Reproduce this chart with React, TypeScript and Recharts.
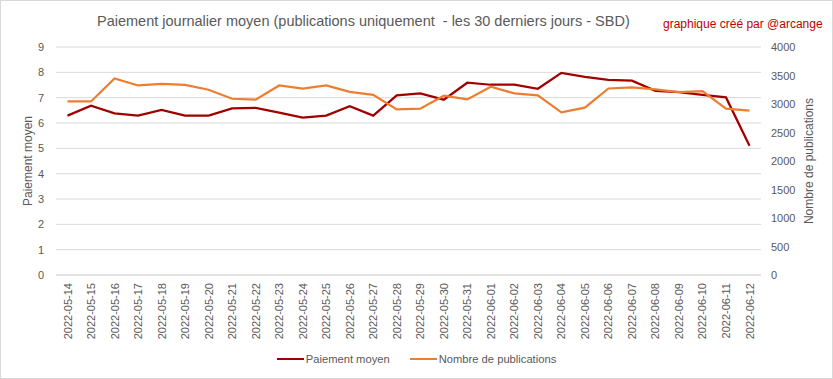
import React from 'react';
import { LineChart, Line, XAxis, YAxis, CartesianGrid, Legend } from 'recharts';

const dates = [
  '2022-05-14', '2022-05-15', '2022-05-16', '2022-05-17', '2022-05-18', '2022-05-19',
  '2022-05-20', '2022-05-21', '2022-05-22', '2022-05-23', '2022-05-24', '2022-05-25',
  '2022-05-26', '2022-05-27', '2022-05-28', '2022-05-29', '2022-05-30', '2022-05-31',
  '2022-06-01', '2022-06-02', '2022-06-03', '2022-06-04', '2022-06-05', '2022-06-06',
  '2022-06-07', '2022-06-08', '2022-06-09', '2022-06-10', '2022-06-11', '2022-06-12',
];

const paiementMoyen = [
  6.29, 6.68, 6.38, 6.29, 6.52, 6.29, 6.29, 6.58, 6.6, 6.41, 6.21, 6.29,
  6.66, 6.29, 7.09, 7.17, 6.92, 7.59, 7.51, 7.51, 7.35, 7.98, 7.82, 7.7,
  7.67, 7.27, 7.22, 7.11, 7.01, 5.1,
];

const nombrePublications = [
  3045, 3045, 3447, 3325, 3354, 3337, 3250, 3092, 3075, 3325, 3272, 3325,
  3214, 3162, 2905, 2917, 3145, 3080, 3302, 3185, 3150, 2853, 2935, 3272,
  3290, 3255, 3209, 3225, 2917, 2883,
];

const leftTicks = [0, 1, 2, 3, 4, 5, 6, 7, 8, 9];
const rightTicks = [0, 500, 1000, 1500, 2000, 2500, 3000, 3500, 4000];

const data = dates.map((d, i) => ({
  date: d,
  paiement: paiementMoyen[i],
  publications: nombrePublications[i],
}));

const FONT = '"Liberation Sans", Arial, sans-serif';
const GREY = '#595959';
const RED = '#a00000';
const ORANGE = '#ed7d31';

// rotated date labels, centred on the category
const DateTick = (props: any) => {
  const { x, y, payload } = props;
  return (
    <text
      x={x}
      y={y}
      transform={`rotate(-90, ${x}, ${y})`}
      textAnchor="end"
      dominantBaseline="central"
      fontSize={11}
      fill={GREY}
      fontFamily={FONT}
    >
      {payload.value}
    </text>
  );
};

const ValueTick = (props: any) => {
  const { x, y, payload, textAnchor } = props;
  return (
    <text x={x} y={y} textAnchor={textAnchor} dominantBaseline="central" fontSize={11} fill={GREY} fontFamily={FONT}>
      {payload.value}
    </text>
  );
};

const legendItems = [
  { label: 'Paiement moyen', color: RED },
  { label: 'Nombre de publications', color: ORANGE },
];

const LegendContent = () => (
  <div style={{ display: 'flex', justifyContent: 'center', alignItems: 'center', height: 24, fontFamily: FONT, fontSize: 11.2, color: GREY }}>
    {legendItems.map((it) => (
      <div key={it.label} style={{ display: 'flex', alignItems: 'center', margin: '0 10px' }}>
        <span style={{ display: 'inline-block', width: 27, height: 2, background: it.color, marginRight: 2 }} />
        <span>{it.label}</span>
      </div>
    ))}
  </div>
);

export default function App() {
  return (
    <div
      style={{
        position: 'fixed',
        left: 0,
        top: 0,
        width: 833,
        height: 379,
        boxSizing: 'border-box',
        border: '1px solid #d9d9d9',
        background: '#fff',
        fontFamily: FONT,
      }}
    >
      <div style={{ position: 'absolute', left: 96, top: 12, fontSize: 14.5, color: GREY, whiteSpace: 'pre' }}>
        Paiement journalier moyen (publications uniquement  - les 30 derniers jours - SBD)
      </div>
      <div style={{ position: 'absolute', left: 662, top: 16, fontSize: 12, color: '#c00000' }}>
        graphique créé par @arcange
      </div>
      <div style={{ position: 'absolute', left: -1, top: -1 }}>
        <LineChart width={833} height={379} data={data} margin={{ top: 47, right: 0, left: 0, bottom: 8 }}>
          <CartesianGrid horizontal vertical={false} stroke="#d9d9d9" yAxisId="left" />
          <XAxis
            dataKey="date"
            interval={0}
            height={72}
            padding={{ left: 11.5, right: 11.5 }}
            tickLine={false}
            axisLine={{ stroke: '#d9d9d9' }}
            tick={<DateTick />}
          />
          <YAxis
            yAxisId="left"
            orientation="left"
            width={56}
            domain={[0, 9]}
            ticks={leftTicks}
            interval={0}
            tickLine={false}
            axisLine={false}
            tickMargin={6}
            tick={<ValueTick />}
            label={{ value: 'Paiement moyen', angle: -90, position: 'insideLeft', offset: 28, style: { textAnchor: 'middle', fontSize: 12, fill: GREY, fontFamily: FONT } }}
          />
          <YAxis
            yAxisId="right"
            orientation="right"
            width={72}
            domain={[0, 4000]}
            ticks={rightTicks}
            interval={0}
            tickLine={false}
            axisLine={false}
            tickMargin={4}
            tick={<ValueTick />}
            label={{ value: 'Nombre de publications', angle: -90, position: 'insideRight', offset: 24, style: { textAnchor: 'middle', fontSize: 12, fill: GREY, fontFamily: FONT } }}
          />
          <Legend verticalAlign="bottom" content={<LegendContent />} />
          <Line
            yAxisId="left"
            type="linear"
            dataKey="paiement"
            name="Paiement moyen"
            stroke={RED}
            strokeWidth={2.25}
            dot={false}
            isAnimationActive={false}
          />
          <Line
            yAxisId="right"
            type="linear"
            dataKey="publications"
            name="Nombre de publications"
            stroke={ORANGE}
            strokeWidth={2.25}
            dot={false}
            isAnimationActive={false}
          />
        </LineChart>
      </div>
    </div>
  );
}
